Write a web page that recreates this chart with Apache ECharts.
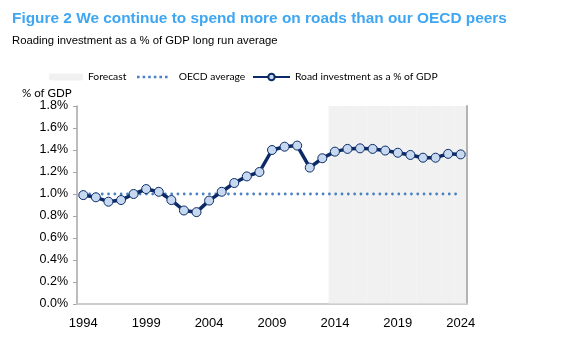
<!DOCTYPE html>
<html>
<head>
<meta charset="utf-8">
<script src="https://cdn.jsdelivr.net/npm/echarts@6/dist/echarts.min.js"></script>
<style>html,body{margin:0;padding:0;background:#fff;}#c{width:571px;height:352px;}</style>
</head>
<body>
<div id="c"></div>
<script>
const years = ['1994','1995','1996','1997','1998','1999','2000','2001','2002','2003','2004','2005','2006','2007','2008','2009','2010','2011','2012','2013','2014','2015','2016','2017','2018','2019','2020','2021','2022','2023','2024'];
const roadInvestment = [0.99,0.97,0.93,0.945,1.0,1.045,1.02,0.945,0.85,0.835,0.94,1.02,1.10,1.16,1.20,1.40,1.43,1.44,1.24,1.325,1.385,1.41,1.415,1.41,1.395,1.375,1.355,1.33,1.33,1.365,1.36];
const oecdAverage = [1.0,1.0,1.0,1.0,1.0,1.0,1.0,1.0,1.0,1.0,1.0,1.0,1.0,1.0,1.0,1.0,1.0,1.0,1.0,1.0,1.0,1.0,1.0,1.0,1.0,1.0,1.0,1.0,1.0,1.0,1.0];
const forecastYears = ['2014','2015','2016','2017','2018','2019','2020','2021','2022','2023','2024'];
const yTicks = [0,0.2,0.4,0.6,0.8,1.0,1.2,1.4,1.6,1.8];

const Y_MAX = yTicks[yTicks.length-1];
const forecastData = years.map(y => forecastYears.includes(y) ? Y_MAX : null);
const navy = '#0b2a66';
const font = '"Liberation Sans", Arial, sans-serif';
const narrow = 'Lato, "Liberation Sans", Arial, sans-serif';
const dotsIcon = 'path://M0,0h2.6v2.6h-2.6z M5.6,0h2.6v2.6h-2.6z M11.2,0h2.6v2.6h-2.6z M16.8,0h2.6v2.6h-2.6z M22.4,0h2.6v2.6h-2.6z M28,0h2.6v2.6h-2.6z';

const chart = echarts.init(document.getElementById('c'), null, {renderer:'canvas'});
chart.setOption({
  animation: false,
  title: [
    {text: 'Figure 2 We continue to spend more on roads than our OECD peers', left: 7, top: 6,
     textStyle: {fontFamily: font, fontWeight: 'bold', fontSize: 15.4, color: '#3fa6f2'}},
    {text: 'Roading investment as a % of GDP long run average', left: 7, top: 30,
     textStyle: {fontFamily: font, fontWeight: 'normal', fontSize: 11.3, color: '#000'}}
  ],
  graphic: [{type:'text', left: 22, top: 87, style:{text:'% of GDP', font: '11.5px ' + narrow, fill:'#000'}}],
  legend: [
    {data:['Forecast'], left: 44, top: 67, itemWidth: 34, itemHeight: 7,
     textStyle:{fontFamily: narrow, fontSize: 10.3, color:'#000'}},
    {data:[{name:'OECD average', icon: dotsIcon}], left: 132, top: 67, itemWidth: 31, itemHeight: 2.6,
     textStyle:{fontFamily: narrow, fontSize: 10.3, color:'#000', padding:[0,0,0,6]}},
    {data:['Road investment as a % of GDP'], left: 247, top: 67, itemWidth: 37, itemHeight: 8,
     textStyle:{fontFamily: narrow, fontSize: 10.3, color:'#000'}}
  ],
  grid: {left: 77, right: 104, top: 106, bottom: 48, containLabel: false},
  xAxis: [
    {type:'category', data: years, boundaryGap: true,
     axisLine:{lineStyle:{color:'#a6a6a6', width:1.5}},
     axisTick:{interval:4, length:4, lineStyle:{color:'#a6a6a6'}},
     axisLabel:{interval:4, fontFamily: font, fontSize: 13, color:'#000', margin: 13}},
    {type:'category', data: years, position:'top', z: 3,
     axisLine:{lineStyle:{color:'#d4d4d4', width:1.5}}, axisTick:{show:false}, axisLabel:{show:false}}
  ],
  yAxis: [
    {type:'value', min: 0, max: Y_MAX, interval: 0.2,
     axisLine:{show:true, lineStyle:{color:'#a6a6a6', width:1.5}},
     axisTick:{show:true, length:4, lineStyle:{color:'#a6a6a6'}},
     splitLine:{show:false},
     axisLabel:{fontFamily: font, fontSize: 12.5, color:'#000', margin: 9, formatter: v => v.toFixed(1) + '%'}},
    {type:'value', min: 0, max: Y_MAX, interval: 0.2, position:'right', z: 3,
     axisLine:{show:true, lineStyle:{color:'#b3b3b3', width:2}}, axisTick:{show:false},
     axisLabel:{show:false}, splitLine:{show:false}}
  ],
  series: [
    {name:'Forecast', type:'bar', data: forecastData, barWidth:'100%', barGap:'-100%', z: 1,
     itemStyle:{color:'#f1f1f1'}, emphasis:{disabled:true}},
    {name:'OECD average', type:'line', data: oecdAverage, symbol:'none', z: 3,
     itemStyle:{color:'#4a80c4'},
     lineStyle:{color:'#4a80c4', width:2.8, type:[0.01, 6.3], cap:'round'}},
    {name:'Road investment as a % of GDP', type:'line', data: roadInvestment, z: 4,
     symbol:'circle', symbolSize: 9, showAllSymbol: true,
     lineStyle:{color: navy, width: 3.5},
     itemStyle:{color:'#c6d9f1', borderColor: navy, borderWidth: 1}}
  ]
});
</script>
</body>
</html>
